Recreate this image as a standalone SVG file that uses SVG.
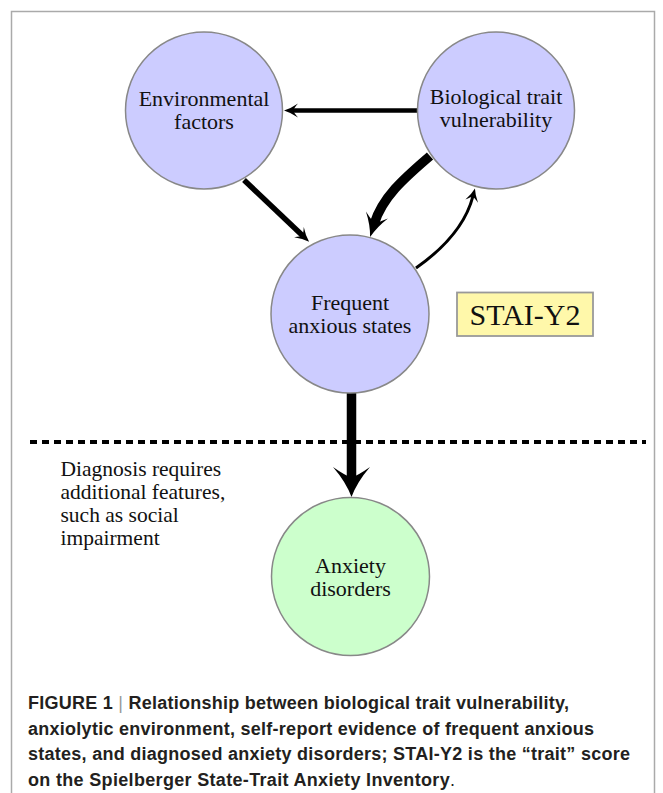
<svg xmlns="http://www.w3.org/2000/svg" width="663" height="793" viewBox="0 0 663 793">
<style>
.node{stroke:#888;stroke-width:1.5}
.blue{fill:#ccccff}
.green{fill:#ccffcc}
.lbl{font-family:"Liberation Serif","Times New Roman",serif;font-size:22px;fill:#111;text-anchor:middle}
.note{font-family:"Liberation Serif","Times New Roman",serif;font-size:21.5px;fill:#111}
.edge{fill:none;stroke:#000}
.cap{font-family:"Liberation Sans",Arial,sans-serif;font-size:18px;font-weight:bold;fill:#231f20}
</style>
<defs>
<marker id="hS" markerUnits="userSpaceOnUse" orient="auto" refX="5.2" refY="0" markerWidth="20" markerHeight="20" overflow="visible">
<path d="M13 0 Q6.5 1.95 0 6.5 Q3.9 1.95 4.55 0 Q3.9 -1.95 0 -6.5 Q6.5 -1.95 13 0 Z" fill="#000"/>
</marker>
<marker id="hM" markerUnits="userSpaceOnUse" orient="auto" refX="5.6" refY="0" markerWidth="20" markerHeight="20" overflow="visible">
<path d="M14 0 Q7 2.1 0 7 Q4.2 2.1 4.9 0 Q4.2 -2.1 0 -7 Q7 -2.1 14 0 Z" fill="#000"/>
</marker>
<marker id="hL" markerUnits="userSpaceOnUse" orient="auto" refX="9.2" refY="0" markerWidth="30" markerHeight="30" overflow="visible">
<path d="M23 0 Q11.5 3.45 0 11.5 Q6.9 3.45 8.05 0 Q6.9 -3.45 0 -11.5 Q11.5 -3.45 23 0 Z" fill="#000"/>
</marker>
<marker id="hXL" markerUnits="userSpaceOnUse" orient="auto" refX="12" refY="0" markerWidth="40" markerHeight="40" overflow="visible">
<path d="M30 0 Q15 5.55 0 18.5 Q9 5.55 10.5 0 Q9 -5.55 0 -18.5 Q15 -5.55 30 0 Z" fill="#000"/>
</marker>
</defs>
<rect x="0" y="0" width="663" height="793" fill="#fff"/>
<rect id="frame" x="11.5" y="11.5" width="643" height="800" fill="none" stroke="#aaa" stroke-width="1.5"/>
<line id="threshold" x1="30" y1="442" x2="646" y2="442" stroke="#000" stroke-width="4" stroke-dasharray="7 5"/>
<g id="connectors">
<path class="edge" d="M417 110.5 H292.4" stroke-width="4.5" marker-end="url(#hM)"/>
<path class="edge" d="M244 180 L303 236" stroke-width="5.5" marker-end="url(#hM)"/>
<path class="edge" d="M430 156 C407 176 383 195.5 374.2 223.8" stroke-width="9.5" marker-end="url(#hL)"/>
<path class="edge" d="M416 268 Q463 235 473 196" stroke-width="3" marker-end="url(#hS)"/>
<path class="edge" d="M351.5 393 V479" stroke-width="9.5" marker-end="url(#hXL)"/>
</g>
<g id="env">
<circle class="node blue" cx="204" cy="110.5" r="78.5"/>
<text class="lbl" x="204" y="106">Environmental<tspan x="204" dy="23">factors</tspan></text>
</g>
<g id="bio">
<circle class="node blue" cx="496" cy="110.5" r="78.5"/>
<text class="lbl" x="496" y="104">Biological trait<tspan x="496" dy="23">vulnerability</tspan></text>
</g>
<g id="freq">
<circle class="node blue" cx="350" cy="314" r="79"/>
<text class="lbl" x="350" y="309.5">Frequent<tspan x="350" dy="23">anxious states</tspan></text>
</g>
<g id="stai">
<rect x="457" y="292.5" width="136" height="43.5" fill="#fff8aa" stroke="#999" stroke-width="1.8"/>
<text class="lbl" x="525" y="325" style="font-size:30px">STAI-Y2</text>
</g>
<g id="anx">
<circle class="node green" cx="350.5" cy="576.5" r="79"/>
<text class="lbl" x="350.5" y="572.5">Anxiety<tspan x="350.5" dy="23">disorders</tspan></text>
</g>
<g id="diagnosis-note">
<text class="note" x="60.5" y="476">Diagnosis requires<tspan x="60.5" dy="23">additional features,</tspan><tspan x="60.5" dy="23">such as social</tspan><tspan x="60.5" dy="23">impairment</tspan></text>
</g>
<g id="caption">
<text class="cap" x="28" y="709" textLength="541" lengthAdjust="spacing">FIGURE 1 <tspan fill="#999" font-weight="normal">|</tspan> Relationship between biological trait vulnerability,</text>
<text class="cap" x="28" y="734.5" textLength="566" lengthAdjust="spacing">anxiolytic environment, self-report evidence of frequent anxious</text>
<text class="cap" x="28" y="760" textLength="602" lengthAdjust="spacing">states, and diagnosed anxiety disorders; STAI-Y2 is the “trait” score</text>
<text class="cap" x="28" y="785.5" textLength="427" lengthAdjust="spacing">on the Spielberger State-Trait Anxiety Inventory<tspan font-weight="normal">.</tspan></text>
</g>
</svg>
